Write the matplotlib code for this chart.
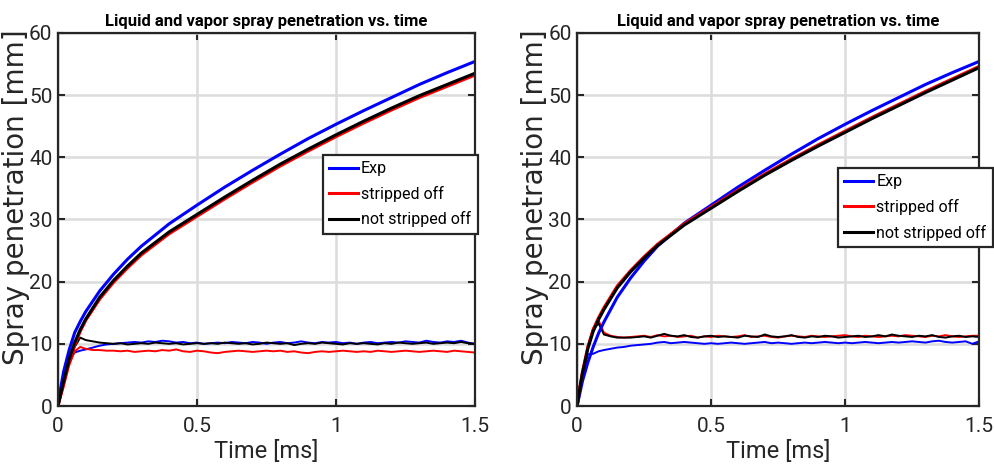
import numpy as np
import matplotlib
matplotlib.use('Agg')
import matplotlib.pyplot as plt

# time samples (ms)
t_vap = [0, 0.01, 0.02, 0.04, 0.06, 0.08, 0.1, 0.15, 0.2, 0.25,
         0.3, 0.4, 0.5, 0.6, 0.7, 0.8, 0.9, 1.0, 1.1, 1.2, 1.3, 1.4, 1.5]
t_liq_early = [0, 0.02, 0.04, 0.06, 0.08, 0.1, 0.125, 0.15, 0.175, 0.2]

# ---- left panel ----
L_vap_exp = [0, 3, 5.5, 9, 11.8, 13.6, 15.2, 18.5, 21.2, 23.6,
             25.7, 29.3, 32.3, 35.2, 37.9, 40.5, 43.0, 45.3, 47.5, 49.6, 51.7, 53.6, 55.4]
L_vap_strip = [0, 1.8, 3.7, 7.2, 9.8, 12.0, 13.8, 17.2, 19.9, 22.2,
               24.3, 27.7, 30.5, 33.3, 36.0, 38.6, 41.0, 43.3, 45.5, 47.6, 49.6, 51.4, 53.2]
L_vap_nostrip = [0, 2, 4, 7.5, 10.2, 12.3, 14.0, 17.5, 20.2, 22.5,
                 24.6, 28.0, 30.8, 33.6, 36.3, 38.9, 41.3, 43.6, 45.8, 47.9, 49.9, 51.7, 53.5]

L_liq_exp = [0, 4.5, 7.5, 8.6, 8.9, 9.1, 9.4, 9.7, 9.9, 10.0,
             10.1, 10.2, 10.3, 10.2, 10.4, 10.3, 10.5, 10.4, 10.2, 10.3, 10.1, 10.2, 10.0,
             10.1, 10.2, 10.1, 10.3, 10.2, 10.1, 10.3, 10.2, 10.0, 10.2, 10.3, 10.1, 10.2,
             10.4, 10.2, 10.1, 10.3, 10.2, 10.3, 10.1, 10.2, 10.0, 10.2, 10.3, 10.1, 10.2,
             10.3, 10.2, 10.4, 10.3, 10.2, 10.5, 10.3, 10.2, 10.4, 10.3, 10.5, 10.2, 10.0]
L_liq_strip = [0, 3, 6.5, 8.8, 9.5, 9.2, 9.0, 9.0, 8.9, 8.9,
               8.8, 8.9, 8.7, 8.8, 8.9, 8.8, 9.0, 8.9, 9.1, 8.8, 8.7, 8.9, 8.8,
               8.6, 8.5, 8.7, 8.8, 8.9, 8.8, 8.7, 8.8, 8.9, 8.8, 8.9, 8.7, 8.8,
               8.6, 8.5, 8.7, 8.8, 8.7, 8.8, 8.9, 8.8, 8.7, 8.8, 8.7, 8.9, 8.8,
               8.7, 8.8, 8.9, 8.8, 8.7, 8.8, 8.9, 8.8, 8.7, 8.9, 8.8, 8.7, 8.6]
L_liq_nostrip = [0, 3.5, 7, 9.5, 11.0, 10.6, 10.4, 10.2, 10.1, 10.0,
                 10.1, 9.9, 10.0, 10.1, 10.0, 10.2, 10.1, 10.0, 10.1, 9.9, 10.0, 10.1, 10.0,
                 10.1, 10.0, 10.2, 10.1, 10.0, 10.1, 9.9, 10.0, 10.2, 10.1, 10.0, 10.1, 9.8,
                 10.0, 10.1, 10.0, 10.2, 10.1, 10.0, 9.9, 10.1, 10.0, 10.1, 10.0, 9.9, 10.1,
                 10.0, 10.2, 10.1, 10.0, 10.1, 10.2, 10.0, 10.1, 10.2, 10.1, 10.3, 10.1, 10.0]

# ---- right panel ----
R_vap_exp = [0, 2, 4, 7, 9.5, 11.7, 13.5, 17.5, 20.6, 23.3,
             25.7, 29.4, 32.3, 35.2, 37.9, 40.5, 43.0, 45.3, 47.5, 49.6, 51.7, 53.6, 55.4]
R_vap_strip = [0, 3, 5.5, 9.5, 12.3, 14.2, 15.8, 19.3, 21.8, 24.0,
               26.0, 29.3, 32.0, 34.7, 37.3, 39.7, 42.0, 44.2, 46.4, 48.5, 50.6, 52.6, 54.6]
R_vap_nostrip = [0, 2.8, 5.3, 9.2, 12.0, 13.9, 15.5, 19.0, 21.6, 23.8,
                 25.8, 29.1, 31.8, 34.5, 37.1, 39.5, 41.8, 44.0, 46.2, 48.3, 50.4, 52.4, 54.4]

R_liq_exp = [0, 5, 8.3, 8.4, 8.8, 9.0, 9.2, 9.4, 9.5, 9.7,
             9.8, 9.9, 10.0, 10.2, 10.3, 10.1, 10.2, 10.3, 10.2, 10.1, 10.0, 10.1, 10.0,
             10.1, 10.2, 10.1, 10.0, 10.1, 10.2, 10.3, 10.1, 10.2, 10.1, 10.0, 10.1, 10.2,
             10.1, 10.2, 10.3, 10.2, 10.1, 10.2, 10.1, 10.2, 10.3, 10.2, 10.1, 10.2, 10.3,
             10.2, 10.3, 10.4, 10.3, 10.2, 10.4, 10.5, 10.3, 10.2, 10.3, 10.4, 10.0, 10.4]
R_liq_strip = [0, 5, 9.5, 12.5, 13.8, 11.8, 11.3, 11.1, 11.0, 11.1,
               11.2, 11.3, 11.1, 11.4, 11.2, 11.3, 11.1, 11.2, 11.3, 11.0, 11.2, 11.1, 11.3,
               11.2, 11.1, 11.2, 11.4, 11.1, 11.2, 11.3, 11.1, 11.0, 11.2, 11.3, 11.2, 11.1,
               11.3, 11.2, 11.1, 11.2, 11.3, 11.4, 11.2, 11.1, 11.3, 11.2, 11.1, 11.2, 11.3,
               11.2, 11.4, 11.3, 11.2, 11.1, 11.3, 11.2, 11.4, 11.2, 11.1, 11.2, 11.3, 11.3]
R_liq_nostrip = [0, 5, 9.5, 12.3, 13.3, 11.5, 11.2, 11.0, 11.0, 11.0,
                 11.1, 11.2, 11.0, 11.3, 11.6, 11.3, 11.2, 11.4, 11.1, 11.0, 11.2, 11.3, 11.1,
                 11.2, 11.1, 11.0, 11.3, 11.2, 11.1, 11.5, 11.2, 11.1, 11.2, 11.4, 11.1, 11.0,
                 11.2, 11.1, 11.3, 11.2, 11.0, 11.1, 11.2, 11.3, 11.1, 11.2, 11.4, 11.2, 11.5,
                 11.3, 11.2, 11.1, 11.3, 11.2, 11.4, 11.1, 11.0, 11.2, 11.3, 11.1, 11.2, 11.1]

labels = ['Exp', 'stripped off', 'not stripped off']
colors = ['#0000ff', '#ff0000', '#000000']

narrow = ['Roboto', 'DejaVu Sans']
axcol = '#262626'


def t_liq(vals):
    n = len(vals) - len(t_liq_early)
    return np.r_[t_liq_early, np.linspace(0.225, 1.5, n)]


fig = plt.figure(figsize=(9.95, 4.76), dpi=100)
ax1 = fig.add_axes([0.0583, 0.147, 0.419, 0.784])
ax2 = fig.add_axes([0.580, 0.147, 0.404, 0.784])

panels = [
    (ax1, [L_vap_exp, L_vap_strip, L_vap_nostrip], [L_liq_exp, L_liq_strip, L_liq_nostrip],
     (0.635, 0.673), (-0.067, 0.56)),
    (ax2, [R_vap_exp, R_vap_strip, R_vap_nostrip], [R_liq_exp, R_liq_strip, R_liq_nostrip],
     (0.649, 0.638), (-0.070, 0.56)),
]

for ax, vap, liq, legpos, ylpos in panels:
    handles = []
    # liquid lines first (thin), vapor drawn on top (thick)
    for vals, c in zip(liq, colors):
        ax.plot(t_liq(vals), vals, color=c, lw=1.4)
    for vals, c, lab in zip(vap, colors, labels):
        h, = ax.plot(t_vap, vals, color=c, lw=2.2, label=lab)
        handles.append(h)

    ax.set_xlim(0, 1.5)
    ax.set_ylim(0, 60)
    ax.set_xticks([0, 0.5, 1, 1.5])
    ax.set_xticklabels(['0', '0.5', '1', '1.5'])
    ax.set_yticks([0, 10, 20, 30, 40, 50, 60])
    ax.grid(True, color='#dcdcdc', lw=1.8)
    ax.set_axisbelow(True)
    for sp in ax.spines.values():
        sp.set_color(axcol)
        sp.set_linewidth(1.6)
    ax.tick_params(direction='in', length=5, width=1.5, colors=axcol,
                   top=True, right=True, labelsize=15)
    ax.tick_params(axis='x', pad=8)
    ax.tick_params(axis='y', pad=4)
    for lab in ax.get_xticklabels() + ax.get_yticklabels():
        lab.set_family(narrow)
    ax.set_title('Liquid and vapor spray penetration vs. time', fontsize=12,
                 fontweight='bold', family=narrow, pad=5)
    ax.set_xlabel('Time [ms]', fontsize=17, family=narrow, color=axcol, labelpad=3)
    ax.set_ylabel('Spray penetration [mm]', fontsize=20, color=axcol)
    ax.yaxis.set_label_coords(*ylpos)

    leg = ax.legend(handles=handles, loc='upper left', bbox_to_anchor=legpos,
                    prop={'family': narrow, 'size': 11.5},
                    fancybox=False, framealpha=1, edgecolor=axcol,
                    handlelength=1.8, handletextpad=0.2, borderpad=0.4,
                    labelspacing=0.6, borderaxespad=0)
    leg.get_frame().set_linewidth(1.6)

fig.savefig('out.png', dpi=100)
